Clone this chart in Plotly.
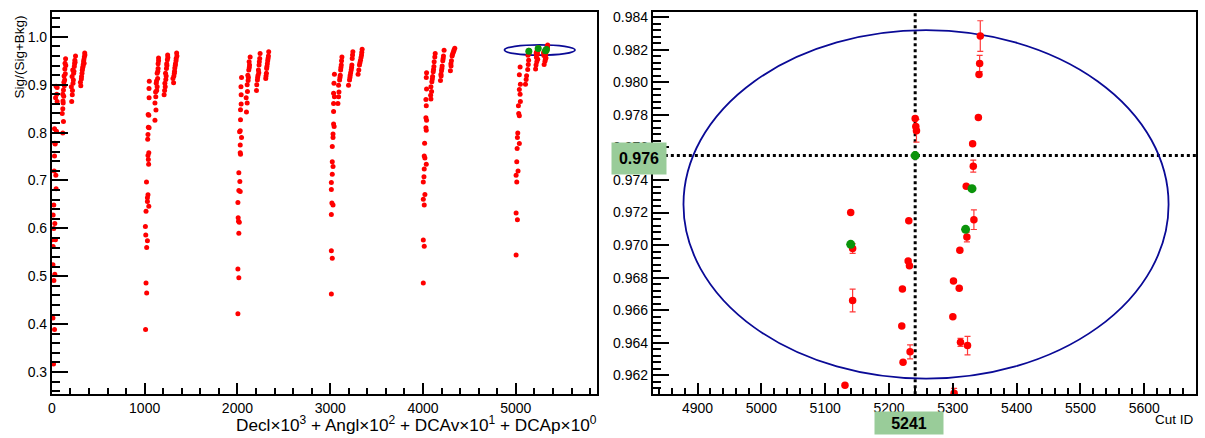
import plotly.graph_objects as go

# ---------------- data: cut ID (Decl*1000 + Angl*100 + DCAv*10 + DCAp) and purity ----------------
decl0_ids = [57, 40, 57, 29, 50, 36, 33, 29, 25, 43, 46, 21, 14, 32, 21, 4, 39, 14, 12, 32, 22, 12, 29, 18, 46, 53,
             118, 125, 112, 118, 122, 128, 118, 125, 135, 138, 132, 145, 140, 150, 148, 142, 130, 120,
             214, 220, 210, 228, 218, 235, 225, 242, 245, 248, 255, 232, 238, 250, 222,
             312, 308, 320, 325, 332, 338, 342, 350, 354, 318, 328, 345, 336, 348, 356]
decl0_purity = [0.894, 0.873, 0.865, 0.808, 0.803, 0.776, 0.778, 0.751, 0.720, 0.711, 0.683, 0.649, 0.628, 0.610, 0.600,
                0.576, 0.576, 0.562, 0.524, 0.504, 0.491, 0.413, 0.389, 0.317, 0.897, 0.880,
                0.799, 0.823, 0.840, 0.850, 0.862, 0.876, 0.880, 0.889, 0.898, 0.910, 0.918, 0.923, 0.933, 0.940,
                0.954, 0.945, 0.905, 0.866,
                0.865, 0.879, 0.896, 0.903, 0.917, 0.924, 0.931, 0.938, 0.944, 0.951, 0.960, 0.910, 0.928, 0.947, 0.888,
                0.898, 0.905, 0.917, 0.924, 0.935, 0.942, 0.948, 0.958, 0.966, 0.912, 0.930, 0.952, 0.938, 0.945, 0.962]

decl1_ids = [1050, 1048, 1045, 1038, 1040, 1036, 1033, 1045, 1036, 1040, 1043, 1020, 1036, 1030, 1030, 1045, 1015,
             1008, 1012, 1030, 1022, 1015, 1022, 1010, 1047, 1048,
             1111, 1122, 1111, 1120, 1130, 1135, 1125, 1140, 1135, 1145, 1145, 1150, 1128, 1142, 1150, 1118,
             1210, 1215, 1218, 1228, 1225, 1235, 1238, 1245, 1248, 1222, 1240, 1232, 1250,
             1312, 1305, 1320, 1325, 1332, 1340, 1345, 1315, 1330, 1338, 1348, 1322]
decl1_purity = [0.907, 0.873, 0.836, 0.838, 0.811, 0.796, 0.786, 0.758, 0.752, 0.744, 0.734, 0.697, 0.670, 0.664, 0.656,
                0.646, 0.636, 0.604, 0.586, 0.574, 0.560, 0.486, 0.465, 0.389, 0.892, 0.810,
                0.826, 0.847, 0.862, 0.875, 0.888, 0.896, 0.903, 0.913, 0.924, 0.934, 0.944, 0.956, 0.908, 0.928,
                0.950, 0.885,
                0.879, 0.888, 0.903, 0.911, 0.924, 0.934, 0.944, 0.952, 0.962, 0.896, 0.940, 0.918, 0.957,
                0.904, 0.913, 0.924, 0.935, 0.944, 0.955, 0.966, 0.918, 0.940, 0.950, 0.960, 0.928]

decl2_ids = [2044, 2038, 2040, 2040, 2033, 2033, 2030, 2023, 2044, 2030, 2030, 2033, 2015, 2026, 2015, 2030, 2005,
             2008, 2012, 2020, 2015, 2005, 2015, 2005,
             2097, 2105, 2094, 2108, 2105, 2115, 2112, 2122, 2130, 2126, 2137, 2118, 2128,
             2205, 2208, 2215, 2222, 2226, 2233, 2240, 2244, 2218, 2236, 2230,
             2305, 2312, 2315, 2322, 2330, 2337, 2318, 2326, 2334, 2308]
decl2_purity = [0.915, 0.896, 0.879, 0.860, 0.848, 0.827, 0.804, 0.802, 0.790, 0.774, 0.758, 0.755, 0.716, 0.698, 0.679,
                0.677, 0.654, 0.622, 0.615, 0.613, 0.590, 0.515, 0.497, 0.4215,
                0.843, 0.862, 0.873, 0.886, 0.900, 0.909, 0.920, 0.931, 0.941, 0.948, 0.958, 0.915, 0.936,
                0.888, 0.900, 0.910, 0.920, 0.931, 0.941, 0.955, 0.965, 0.915, 0.948, 0.925,
                0.913, 0.924, 0.934, 0.944, 0.955, 0.969, 0.938, 0.950, 0.960, 0.918]

decl3_ids = [3045, 3040, 3036, 3045, 3036, 3036, 3036, 3042, 3030, 3030, 3022, 3022, 3030, 3022, 3012, 3012, 3018,
             3030, 3012, 3012, 3022, 3012,
             3083, 3090, 3094, 3090, 3101, 3108, 3112, 3119, 3126, 3105, 3115, 3122,
             3197, 3208, 3215, 3226, 3233, 3237, 3244, 3220, 3230, 3240, 3212,
             3300, 3308, 3315, 3326, 3337, 3344, 3320, 3332, 3340]
decl3_purity = [0.922, 0.903, 0.882, 0.875, 0.861, 0.844, 0.818, 0.813, 0.797, 0.790, 0.771, 0.739, 0.729, 0.713, 0.696,
                0.681, 0.653, 0.649, 0.629, 0.5535, 0.5375, 0.463,
                0.861, 0.875, 0.885, 0.899, 0.910, 0.920, 0.931, 0.941, 0.958, 0.915, 0.936, 0.950,
                0.899, 0.910, 0.920, 0.931, 0.941, 0.955, 0.969, 0.925, 0.936, 0.962, 0.915,
                0.922, 0.931, 0.941, 0.951, 0.962, 0.974, 0.946, 0.957, 0.968]

decl4_ids = [4038, 4035, 4038, 4031, 4035, 4031, 4038, 4031, 4035, 4017, 4013, 4020, 4035, 4013, 4010, 4003, 4020,
             4003, 4013, 4003, 4013, 4003,
             4085, 4082, 4092, 4085, 4095, 4103, 4110, 4117, 4120, 4127, 4131, 4100, 4113,
             4188, 4195, 4199, 4206, 4213, 4220, 4227, 4203, 4217, 4193,
             4295, 4302, 4306, 4313, 4324, 4342, 4317, 4330, 4300, 4335]
decl4_purity = [0.925, 0.915, 0.891, 0.869, 0.856, 0.831, 0.826, 0.810, 0.805, 0.778, 0.751, 0.747, 0.734, 0.724, 0.708,
                0.697, 0.671, 0.661, 0.649, 0.5757, 0.5625, 0.486,
                0.870, 0.878, 0.886, 0.896, 0.906, 0.917, 0.927, 0.938, 0.948, 0.958, 0.965, 0.912, 0.932,
                0.909, 0.918, 0.929, 0.939, 0.950, 0.960, 0.972, 0.934, 0.955, 0.922,
                0.929, 0.939, 0.950, 0.960, 0.967, 0.976, 0.963, 0.970, 0.944, 0.973]

decl5_ids = [5046, 5038, 5049, 5038, 5046, 5049, 5028, 5031, 5038, 5021, 5017, 5038, 5014, 5010, 5024, 5003, 5010,
             5003, 5017, 5003,
             5104, 5111, 5116, 5128, 5134, 5138, 5131, 5143, 5143, 5140,
             5213, 5218, 5226, 5236, 5222, 5220, 5221, 5222, 5230, 5232, 5231, 5233, 5241, 5242, 5243,
             5305, 5314, 5325, 5318, 5301, 5300, 5302, 5310, 5311, 5312, 5321, 5322, 5323, 5331, 5332, 5333,
             5340, 5341, 5342, 5343]
decl5_purity = [0.937, 0.921, 0.901, 0.890, 0.880, 0.865, 0.856, 0.840, 0.835, 0.799, 0.790, 0.777, 0.767, 0.739, 0.720,
                0.711, 0.697, 0.632, 0.618, 0.5444,
                0.901, 0.911, 0.919, 0.932, 0.942, 0.951, 0.9614, 0.9666, 0.9698, 0.9720,
                0.933, 0.941, 0.948, 0.953, 0.957, 0.96503, 0.96731, 0.96281, 0.96903, 0.96873, 0.9715, 0.96345,
                0.97778, 0.97729, 0.97702,
                0.942, 0.949, 0.956, 0.953, 0.9678, 0.9656, 0.9609, 0.96735, 0.96969, 0.96403, 0.97361, 0.9705,
                0.96383, 0.97623, 0.97485, 0.97156, 0.97784, 0.98048, 0.98115, 0.98284]
decl5_error = [0] * 20 + \
              [0, 0, 0, 0, 0, 0, 0, 0.0007, 0.0003, 0] + \
              [0, 0, 0, 0, 0, 0, 0, 0, 0, 0, 0, 0.00043, 0, 0, 0.0007] + \
              [0, 0, 0, 0, 0, 0, 0.0003, 0, 0, 0.00025, 0, 0.0003, 0.00057, 0, 0.00037, 0.0006, 0, 0, 0.0005, 0.00094]

best_ids = [5140, 5241, 5320, 5330]
best_purity = [0.97005, 0.9755, 0.97097, 0.97347]

selected_id = 5241
selected_purity = 0.9755
selected_purity_label = "0.976"
selected_id_label = "5241"

ellipse_center = (5258, 0.9725)
ellipse_radius = (380, 0.0107)

# ---------------- build ----------------
all_ids, all_pur = [], []
for ids, pur in [(decl0_ids, decl0_purity), (decl1_ids, decl1_purity), (decl2_ids, decl2_purity),
                 (decl3_ids, decl3_purity), (decl4_ids, decl4_purity), (decl5_ids, decl5_purity)]:
    for i, p in zip(ids, pur):
        all_ids.append(i)
        all_pur.append(p)

W, H = 1205, 438
FONT = "Liberation Sans, Arial, sans-serif"
RED = "#ff0000"
GREEN = "#0b940b"
NAVY = "#0a0a96"

fig = go.Figure()

fig.add_trace(go.Scatter(x=all_ids, y=all_pur, mode="markers", xaxis="x", yaxis="y",
                         marker=dict(color=RED, size=5, line=dict(width=0)), showlegend=False,
                         hoverinfo="skip"))
fig.add_trace(go.Scatter(x=best_ids, y=best_purity, mode="markers", xaxis="x", yaxis="y",
                         marker=dict(color=GREEN, size=7, line=dict(width=0)), showlegend=False))

n5 = min(len(decl5_ids), len(decl5_purity), len(decl5_error))
fig.add_trace(go.Scatter(x=decl5_ids[:n5], y=decl5_purity[:n5], mode="markers", xaxis="x2", yaxis="y2",
                         marker=dict(color=RED, size=7.5, line=dict(width=0)),
                         error_y=dict(type="data", array=decl5_error[:n5], color="#ff3a3a", thickness=1.2, width=3),
                         showlegend=False))
fig.add_trace(go.Scatter(x=best_ids, y=best_purity, mode="markers", xaxis="x2", yaxis="y2",
                         marker=dict(color=GREEN, size=9, line=dict(width=0)), showlegend=False))

cx, cy = ellipse_center
rx, ry = ellipse_radius
shapes = []
for xr, yr in [("x", "y"), ("x2", "y2")]:
    shapes.append(dict(type="circle", xref=xr, yref=yr, x0=cx - rx, x1=cx + rx, y0=cy - ry, y1=cy + ry,
                       line=dict(color=NAVY, width=1.8), layer="below"))
shapes.append(dict(type="line", xref="x2", yref="y2 domain", x0=selected_id, x1=selected_id, y0=0, y1=1,
                   line=dict(color="black", width=3, dash="3px,3px"), layer="below"))
shapes.append(dict(type="line", xref="x2 domain", yref="y2", x0=0, x1=1, y0=selected_purity, y1=selected_purity,
                   line=dict(color="black", width=3, dash="3px,3px"), layer="below"))

axis_common = dict(showline=True, linecolor="black", linewidth=1.8, mirror=True, showgrid=False,
                   zeroline=False, ticks="inside", tickcolor="black", tickwidth=1.8,
                   tickfont=dict(family=FONT, size=14, color="black"))

y_bottom = 1 - 394 / H
y_top = 1 - 9 / H

fig.update_layout(
    width=W, height=H, margin=dict(l=0, r=0, t=0, b=0),
    paper_bgcolor="white", plot_bgcolor="white",
    font=dict(family=FONT, color="black"),
    xaxis=dict(domain=[48 / W, 595 / W], range=[0, 5875], tick0=0, dtick=1000, ticklen=11, anchor="y",
               minor=dict(dtick=200, ticklen=6, ticks="inside", tickcolor="black", tickwidth=1.5),
               **axis_common),
    yaxis=dict(domain=[y_bottom, y_top], range=[0.2535, 1.052], tick0=0, dtick=0.1, tickformat=".1f",
               ticklen=16, anchor="x",
               minor=dict(dtick=0.02, ticklen=8, ticks="inside", tickcolor="black", tickwidth=1.5),
               **axis_common),
    xaxis2=dict(domain=[651 / W, 1196 / W], range=[4830, 5681], tick0=0, dtick=100, ticklen=11, anchor="y2",
                minor=dict(dtick=20, ticklen=6, ticks="inside", tickcolor="black", tickwidth=1.5),
                **axis_common),
    yaxis2=dict(domain=[y_bottom, y_top], range=[0.96084, 0.98432], tick0=0, dtick=0.002, tickformat=".3f",
                ticklen=16, anchor="x2",
                minor=dict(dtick=0.0004, ticklen=8, ticks="inside", tickcolor="black", tickwidth=1.5),
                **axis_common),
    shapes=shapes,
)

annotations = [
    dict(text="Sig/(Sig+Bkg)", xref="paper", yref="paper", x=15 / W, y=1 - 10 / H, xanchor="center",
         yanchor="top", textangle=-90, showarrow=False, font=dict(family=FONT, size=13.5, color="black")),
    dict(text="Decl\u00d710<sup>3</sup> + Angl\u00d710<sup>2</sup> + DCAv\u00d710<sup>1</sup> + DCAp\u00d710<sup>0</sup>",
         xref="paper", yref="paper", x=597 / W, y=1 - 424 / H, xanchor="right", yanchor="middle",
         showarrow=False, font=dict(family=FONT, size=17.2, color="black")),
    dict(text="Cut ID", xref="paper", yref="paper", x=1196 / W, y=1 - 419 / H, xanchor="right",
         yanchor="middle", showarrow=False, font=dict(family=FONT, size=13.5, color="black")),
    dict(text="<b>" + selected_purity_label + "</b>", xref="paper", yref="y2", x=637 / W, y=selected_purity,
         yshift=-3, xanchor="center", yanchor="middle", showarrow=False, width=54, height=31, borderpad=0,
         bgcolor="#99cc99", font=dict(family=FONT, size=16, color="black")),
    dict(text="<b>" + selected_id_label + "</b>", xref="x2", yref="paper", x=selected_id, xshift=-6,
         y=1 - 422.5 / H, xanchor="center", yanchor="middle", showarrow=False, width=68, height=22,
         borderpad=0, bgcolor="#99cc99", font=dict(family=FONT, size=16, color="black")),
]
fig.update_layout(annotations=annotations)

fig.write_html("out.html")
